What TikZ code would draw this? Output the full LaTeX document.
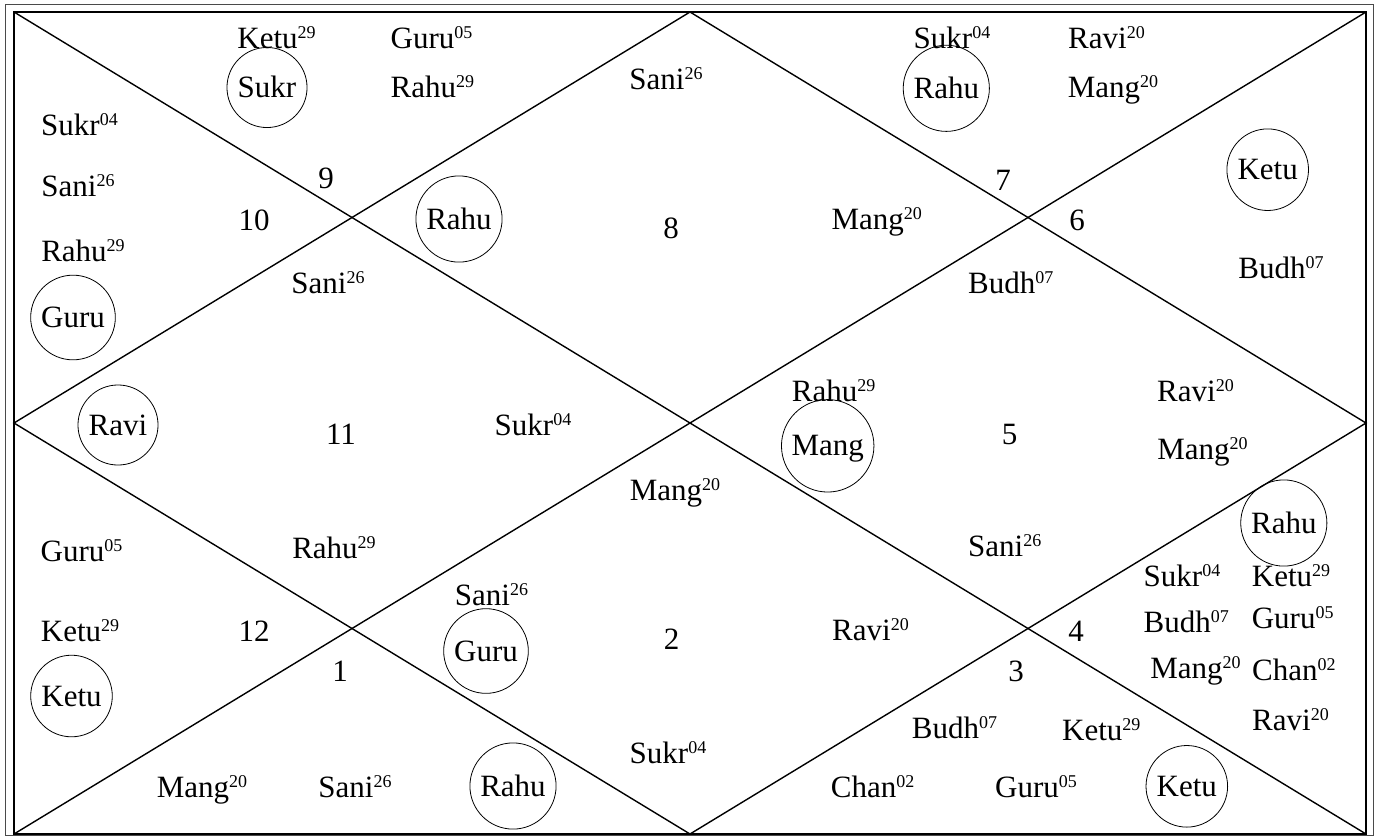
\documentclass[tikz,border=0pt]{standalone}
\usepackage{fontspec}
\setmainfont{Liberation Serif}
\usepackage{tikz}
\usetikzlibrary{positioning}
\definecolor{chartline}{HTML}{000000}
\definecolor{framegrey}{HTML}{4A4A4A}
% planet with its degree
\newcommand{\pl}[2]{#1\raisebox{10pt}{\fontsize{18}{18}\selectfont #2}}
\tikzset{
  house/.style={line width=1.4pt, draw=chartline},
  frame/.style={line width=1pt, draw=framegrey},
  planet/.style={anchor=base, inner sep=0pt},
  hno/.style={anchor=base, inner sep=0pt},
  graha/.style={circle, draw, line width=0.8pt, inner sep=7pt,
                text height=20pt, text depth=0pt},
}

\begin{document}
\begin{tikzpicture}[x=1pt, y=-1pt, font=\fontsize{31}{36}\selectfont]
\useasboundingbox (0,0) rectangle (1378,836);

\coordinate (tl) at (14,12);
\coordinate (tr) at (1366,12);
\coordinate (br) at (1366,834);
\coordinate (bl) at (14,834);
\coordinate (tm) at (690,12);
\coordinate (rm) at (1366,423);
\coordinate (bm) at (690,834);
\coordinate (lm) at (14,423);

\draw[frame] (5,4.5) rectangle (1373,835.5);
\draw[house] (tl) rectangle (br);
\draw[house] (tl) -- (br);
\draw[house] (tr) -- (bl);
\draw[house] (tm) -- (rm) -- (bm) -- (lm) -- cycle;

% house numbers
\node[hno] (n1)  at (340,681.7)  {1};
\node[hno] (n2)  at (671.5,649.3) {2};
\node[hno] (n3)  at (1016,681.7) {3};
\node[hno] (n4)  at (1076,641.7) {4};
\node[hno] (n5)  at (1009.7,444) {5};
\node[hno] (n6)  at (1077,230)   {6};
\node[hno] (n7)  at (1003,190)   {7};
\node[hno] (n8)  at (671,238.3)  {8};
\node[hno] (n9)  at (326,188)    {9};
\node[hno] (n10) at (254,230)    {10};
\node[hno] (n11) at (341,444)    {11};
\node[hno] (n12) at (254,641.7)  {12};

% top left
\node[planet] (a1) at (276.5,48.3) {\pl{Ketu}{29}};
\node[planet] (a2) at (431.5,48.3) {\pl{Guru}{05}};
\node[planet] (a3) at (432.4,97.7) {\pl{Rahu}{29}};
\node[graha] (c1) at (267,87.5) {Sukr};
\node[planet] (a4) at (79.5,135)  {\pl{Sukr}{04}};
\node[planet] (a5) at (78,196.7)  {\pl{Sani}{26}};
\node[planet] (a6) at (83,261.7)  {\pl{Rahu}{29}};
\node[graha] (c2) at (73,317.5) {Guru};
\node[graha] (c3) at (459,219) {Rahu};
\node[planet] (a7) at (328,293)   {\pl{Sani}{26}};
\node[graha] (c4) at (118,425) {Ravi};
\node[planet] (a8) at (533,435)   {\pl{Sukr}{04}};

% top middle and top right
\node[planet] (b1) at (666,89.3)    {\pl{Sani}{26}};
\node[planet] (b2) at (876.7,229.3) {\pl{Mang}{20}};
\node[planet] (b3) at (952,48.3)    {\pl{Sukr}{04}};
\node[graha] (d1) at (946.3,88.3) {Rahu};
\node[planet] (b4) at (1106.5,48.3) {\pl{Ravi}{20}};
\node[planet] (b5) at (1113,97.7)   {\pl{Mang}{20}};
\node[graha] (d2) at (1267.7,169.7) {Ketu};
\node[planet] (b6) at (1281,278.3)  {\pl{Budh}{07}};
\node[planet] (b7) at (1010.7,293.3) {\pl{Budh}{07}};

% middle
\node[planet] (m1) at (833.7,401.7) {\pl{Rahu}{29}};
\node[graha] (e1) at (827.7,445.8) {Mang};
\node[planet] (m2) at (1195.5,401.7) {\pl{Ravi}{20}};
\node[planet] (m3) at (1202.5,459.3) {\pl{Mang}{20}};
\node[planet] (m4) at (675,500)     {\pl{Mang}{20}};
\node[planet] (m5) at (1004.7,556.7) {\pl{Sani}{26}};
\node[graha] (e2) at (1283.8,523) {Rahu};

% bottom left
\node[planet] (f1) at (81.5,561)  {\pl{Guru}{05}};
\node[planet] (f2) at (334,558)   {\pl{Rahu}{29}};
\node[planet] (f3) at (80,641)    {\pl{Ketu}{29}};
\node[graha] (g1) at (71.5,696) {Ketu};
\node[planet] (f4) at (202,797)   {\pl{Mang}{20}};
\node[planet] (f5) at (355,797)   {\pl{Sani}{26}};

% bottom middle
\node[planet] (h1) at (491.5,605) {\pl{Sani}{26}};
\node[graha] (k1) at (486,651) {Guru};
\node[planet] (h2) at (870.5,640) {\pl{Ravi}{20}};
\node[graha] (k2) at (513,786) {Rahu};
\node[planet] (h3) at (668,763)   {\pl{Sukr}{04}};
\node[planet] (h4) at (872.7,797) {\pl{Chan}{02}};

% bottom right
\node[planet] (r1) at (1182,586.7)   {\pl{Sukr}{04}};
\node[planet] (r2) at (1291,586.7)   {\pl{Ketu}{29}};
\node[planet] (r3) at (1186.3,632.7) {\pl{Budh}{07}};
\node[planet] (r4) at (1292.7,628.3) {\pl{Guru}{05}};
\node[planet] (r5) at (1195.5,678.3) {\pl{Mang}{20}};
\node[planet] (r6) at (1293.8,680.7) {\pl{Chan}{02}};
\node[planet] (r7) at (1290.5,730)   {\pl{Ravi}{20}};
\node[planet] (r8) at (954.5,738.3)  {\pl{Budh}{07}};
\node[planet] (r9) at (1101.3,740)   {\pl{Ketu}{29}};
\node[planet] (r10) at (1036,797.3)  {\pl{Guru}{05}};
\node[graha] (s1) at (1186.8,786.3) {Ketu};

\end{tikzpicture}
\end{document}
